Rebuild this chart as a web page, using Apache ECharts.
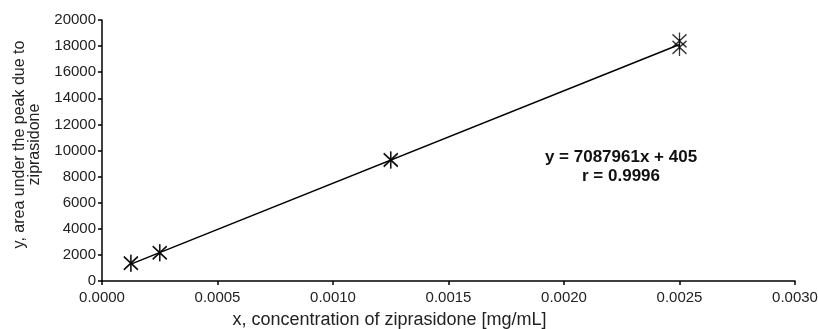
<!DOCTYPE html>
<html>
<head>
<meta charset="utf-8">
<script src="https://cdn.jsdelivr.net/npm/echarts@6/dist/echarts.min.js"></script>
<style>
  html, body { margin: 0; padding: 0; background: #fff; }
  #chart { width: 818px; height: 329px; }
</style>
</head>
<body>
<div id="chart"></div>
<script>
// Calibration data: concentration (mg/mL) vs. peak area
const concentrations = [0.000125, 0.000125, 0.00025, 0.00025, 0.00125, 0.00125, 0.0025, 0.0025];
const peakAreas      = [1350,     1380,     2150,    2180,    9250,    9300,    18400,  17900];

// Least-squares fit reported on the chart
const slope = 7087961;
const intercept = 405;
const rValue = '0.9996';
const fitRange = [0.000125, 0.0025];

const xTicks = { min: 0, max: 0.003, step: 0.0005 };
const yTicks = { min: 0, max: 20000, step: 2000 };

const FONT = '"Liberation Sans", Arial, sans-serif';

const points = concentrations.map((c, i) => [c, peakAreas[i]]);
const fitLine = fitRange.map(x => [x, slope * x + intercept]);

// six-armed asterisk marker
const starPath = 'path://M0,0 L10,10 M10,0 L0,10 M5,-1.5 L5,11.5';

const chart = echarts.init(document.getElementById('chart'));
chart.setOption({
  animation: false,
  backgroundColor: '#fff',
  grid: { left: 102, right: 23, top: 20, bottom: 48, outerBoundsMode: 'none', containLabel: false },
  xAxis: {
    type: 'value',
    min: xTicks.min, max: xTicks.max, interval: xTicks.step,
    name: 'x, concentration of ziprasidone [mg/mL]',
    nameLocation: 'middle',
    nameGap: 30,
    nameTextStyle: { fontFamily: FONT, fontSize: 18, color: '#222', padding: [0, 118, 0, 0] },
    axisLine: { lineStyle: { color: '#000', width: 1.5 } },
    axisTick: { show: true, length: 4, inside: false, lineStyle: { color: '#000', width: 1.5 } },
    axisLabel: { fontFamily: FONT, fontSize: 15, color: '#222', margin: 9,
      formatter: v => v.toFixed(4) },
    splitLine: { show: false }
  },
  yAxis: {
    type: 'value',
    min: yTicks.min, max: yTicks.max, interval: yTicks.step,
    name: 'y, area under the peak due to\nziprasidone',
    nameLocation: 'middle',
    nameGap: 60,
    nameRotate: 90,
    nameTextStyle: { fontFamily: FONT, fontSize: 16, color: '#222', lineHeight: 15, padding: [0, 0, 0, 12] },
    axisLine: { show: true, lineStyle: { color: '#000', width: 1.5 } },
    axisTick: { show: true, length: 4, lineStyle: { color: '#000', width: 1.5 } },
    axisLabel: { fontFamily: FONT, fontSize: 15, color: '#222', margin: 6,
      formatter: v => String(v) },
    splitLine: { show: false }
  },
  graphic: [{
    type: 'text',
    x: 621, y: 148,
    style: {
      text: 'y = ' + slope + 'x + ' + intercept + '\nr = ' + rValue,
      fontFamily: FONT, fontSize: 17, fontWeight: 'bold', fill: '#111',
      align: 'center', lineHeight: 19
    }
  }],
  series: [
    {
      type: 'line',
      data: fitLine,
      symbol: 'none',
      lineStyle: { color: '#000', width: 1.5 },
      silent: true,
      z: 2
    },
    {
      type: 'scatter',
      data: points,
      symbol: starPath,
      symbolSize: [14, 17],
      itemStyle: { color: 'rgba(0,0,0,0)', borderColor: '#000', borderWidth: 1.4 },
      z: 3
    }
  ]
});
</script>
</body>
</html>
